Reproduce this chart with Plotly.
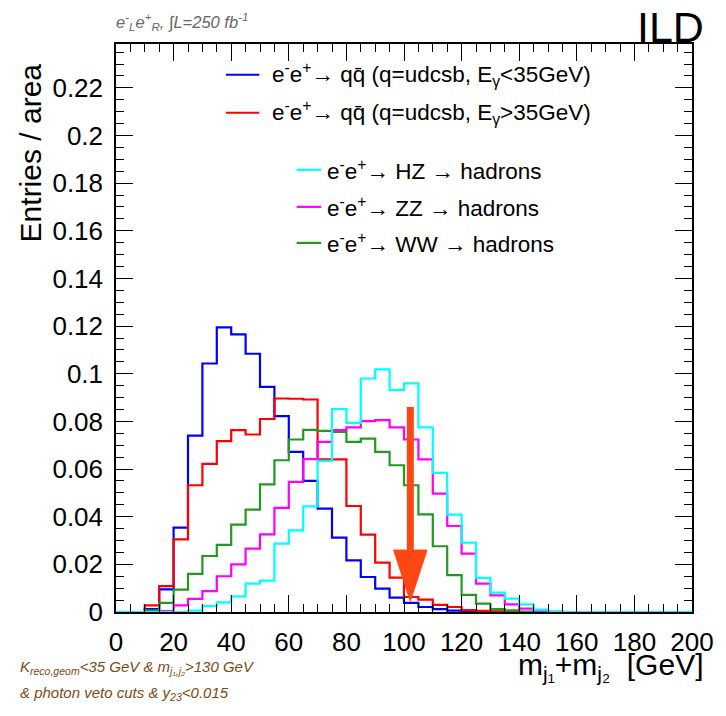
import numpy as np
import plotly.graph_objects as go

# 5 GeV bins from 0 to 200 GeV, normalised to unit area
bin_edges = np.arange(0, 205, 5)

qq_low_gamma = [0, 0, 0.0012, 0.0095, 0.0354, 0.0740, 0.1043, 0.1195, 0.1165, 0.1084,
                0.0945, 0.0822, 0.0672, 0.0550, 0.0434, 0.0312, 0.0217, 0.0147, 0.0098, 0.0060,
                0.0038, 0.0021, 0.0012, 0.0006, 0.0004, 0.0002, 0.0001, 0, 0, 0,
                0, 0, 0, 0, 0, 0, 0, 0, 0, 0]
qq_high_gamma = [0, 0, 0.0028, 0.0109, 0.0305, 0.0532, 0.0622, 0.0717, 0.0763, 0.0745,
                 0.0810, 0.0896, 0.0895, 0.0892, 0.0641, 0.0641, 0.0445, 0.0325, 0.0207, 0.0144,
                 0.0063, 0.0052, 0.0030, 0.0021, 0.0008, 0.0005, 0.0003, 0.0002, 0, 0,
                 0, 0, 0, 0, 0, 0, 0, 0, 0, 0]
ww_hadrons = [0, 0, 0.0007, 0.0038, 0.0094, 0.0160, 0.0235, 0.0282, 0.0367, 0.0430,
              0.0536, 0.0637, 0.0724, 0.0764, 0.0760, 0.0756, 0.0714, 0.0728, 0.0672, 0.0616,
              0.0532, 0.0410, 0.0276, 0.0155, 0.0072, 0.0035, 0.0012, 0.0007, 0.0002, 0,
              0, 0, 0, 0, 0, 0, 0, 0, 0, 0]
zz_hadrons = [0, 0, 0, 0.0004, 0.0028, 0.0055, 0.0088, 0.0150, 0.0200, 0.0266,
              0.0326, 0.0437, 0.0546, 0.0642, 0.0714, 0.0763, 0.0775, 0.0801, 0.0805, 0.0775,
              0.0724, 0.0641, 0.0497, 0.0361, 0.0245, 0.0119, 0.0070, 0.0032, 0.0014, 0.0006,
              0.0002, 0, 0, 0, 0, 0, 0, 0, 0, 0]
hz_hadrons = [0, 0, 0, 0, 0, 0.0006, 0.0025, 0.0040, 0.0066, 0.0119,
              0.0132, 0.0287, 0.0343, 0.0443, 0.0634, 0.0852, 0.0794, 0.0980, 0.1018, 0.0931,
              0.0960, 0.0775, 0.0584, 0.0409, 0.0291, 0.0143, 0.0081, 0.0056, 0.0032, 0.0010,
              0.0002, 0, 0, 0, 0, 0, 0, 0, 0, 0]

series_names = [
    "e<sup>-</sup>e<sup>+</sup>\u2192 qq\u0304 (q=udcsb, E<sub>\u03b3</sub>&lt;35GeV)",
    "e<sup>-</sup>e<sup>+</sup>\u2192 qq\u0304 (q=udcsb, E<sub>\u03b3</sub>&gt;35GeV)",
    "e<sup>-</sup>e<sup>+</sup>\u2192 WW \u2192 hadrons",
    "e<sup>-</sup>e<sup>+</sup>\u2192 ZZ \u2192 hadrons",
    "e<sup>-</sup>e<sup>+</sup>\u2192 HZ \u2192 hadrons",
]
series_values = [qq_low_gamma, qq_high_gamma, ww_hadrons, zz_hadrons, hz_hadrons]
series_colors = ["#0000ff", "#ff0000", "#229a22", "#ff00ff", "#00ffff"]

x_ticks = list(range(0, 201, 20))
y_max = 0.2384
cut_value = 102.2          # mass-sum cut marker position [GeV]
arrow_top, arrow_base, arrow_tip = 0.086, 0.026, 0.0045

# plot frame in pixels
W, H = 726, 716
L, R, T, B = 116, 702.7, 44.3, 611.7


def px_x(p):
    return (p - L) / (R - L)


def px_y(p):
    return (B - p) / (B - T)


fig = go.Figure()
for name, vals, col in zip(series_names, series_values, series_colors):
    fig.add_trace(go.Scatter(
        x=bin_edges, y=list(vals) + [vals[-1]],
        mode="lines", line=dict(color=col, width=2.2, shape="hv"),
        name=name, showlegend=False, hoverinfo="skip"))

arrow_col = "#ff4713"
fig.add_shape(type="line", x0=cut_value, x1=cut_value, y0=arrow_top, y1=arrow_base,
              line=dict(color=arrow_col, width=7), layer="above")
half_w = 5.8
fig.add_shape(type="path",
              path=f"M {cut_value - half_w} {arrow_base} L {cut_value + half_w} {arrow_base} "
                   f"L {cut_value} {arrow_tip} Z",
              fillcolor=arrow_col, line=dict(color=arrow_col, width=1), layer="above")

# hand-placed legend in two blocks
legend_font = dict(family="Liberation Sans, Arial", size=22.5, color="black")
legend_rows = [
    (0, 228, 262, 273, 75),
    (1, 228, 262, 273, 113),
    (4, 300, 325, 329, 170),
    (3, 300, 325, 329, 207),
    (2, 300, 325, 329, 243),
]
for idx, lx0, lx1, tx, ly in legend_rows:
    fig.add_shape(type="line", xref="paper", yref="paper",
                  x0=px_x(lx0), x1=px_x(lx1), y0=px_y(ly), y1=px_y(ly),
                  line=dict(color=series_colors[idx], width=2.2))
    fig.add_annotation(xref="paper", yref="paper", x=px_x(tx), y=px_y(ly),
                       xanchor="left", yanchor="middle", showarrow=False,
                       text=series_names[idx], font=legend_font)

fig.add_annotation(xref="paper", yref="paper", x=px_x(717), y=px_y(53),
                   xanchor="right", yanchor="bottom", showarrow=False,
                   text="ILD", font=dict(family="Liberation Sans, Arial", size=43, color="black"))
fig.add_annotation(xref="paper", yref="paper", x=px_x(114), y=px_y(22),
                   xanchor="left", yanchor="middle", showarrow=False,
                   text="<i>e<sup>-</sup><sub>L</sub>e<sup>+</sup><sub>R</sub>, \u222bL=250 fb<sup>-1</sup></i>",
                   font=dict(family="Liberation Sans, Arial", size=16.5, color="#666666"))

fig.add_annotation(xref="paper", yref="paper", x=px_x(716), y=px_y(666),
                   xanchor="right", yanchor="middle", showarrow=False,
                   text="m<sub>j\u2081</sub>+m<sub>j\u2082</sub>  [GeV]",
                   font=dict(family="Liberation Sans, Arial", size=30, color="black"))
fig.add_annotation(xref="paper", yref="paper", x=px_x(29), y=px_y(153),
                   xanchor="center", yanchor="middle", showarrow=False, textangle=-90,
                   text="Entries / area",
                   font=dict(family="Liberation Sans, Arial", size=30, color="black"))

cut_font = dict(family="Liberation Sans, Arial", size=15, color="#7b4b15")
fig.add_annotation(xref="paper", yref="paper", x=px_x(16), y=px_y(667),
                   xanchor="left", yanchor="middle", showarrow=False,
                   text="<i>K<sub>reco,geom</sub>&lt;35 GeV &amp; m<sub>j\u2081,j\u2082</sub>&gt;130 GeV</i>",
                   font=cut_font)
fig.add_annotation(xref="paper", yref="paper", x=px_x(16), y=px_y(693),
                   xanchor="left", yanchor="middle", showarrow=False,
                   text="<i>&amp; photon veto cuts &amp; y<sub>23</sub>&lt;0.015</i>",
                   font=cut_font)

axis_common = dict(showline=True, linecolor="black", linewidth=1.5, mirror="ticks",
                   ticks="inside", tickcolor="black", tickwidth=1.3, ticklen=17,
                   showgrid=False, zeroline=False,
                   tickfont=dict(family="Liberation Sans, Arial", size=26, color="black"))
fig.update_xaxes(range=[0, 200], tickvals=x_ticks, ticklabelstandoff=6,
                 minor=dict(dtick=5, ticks="inside", ticklen=8, tickcolor="black",
                            tickwidth=1.3, showgrid=False),
                 **axis_common)
fig.update_yaxes(range=[0, y_max], dtick=0.02, tick0=0, ticklabelstandoff=6,
                 minor=dict(dtick=0.005, ticks="inside", ticklen=8, tickcolor="black",
                            tickwidth=1.3, showgrid=False),
                 **axis_common)

fig.update_layout(width=W, height=H, plot_bgcolor="white", paper_bgcolor="white",
                  margin=dict(l=L, r=W - R, t=T, b=H - B),
                  showlegend=False)
fig.write_html("out.html")
